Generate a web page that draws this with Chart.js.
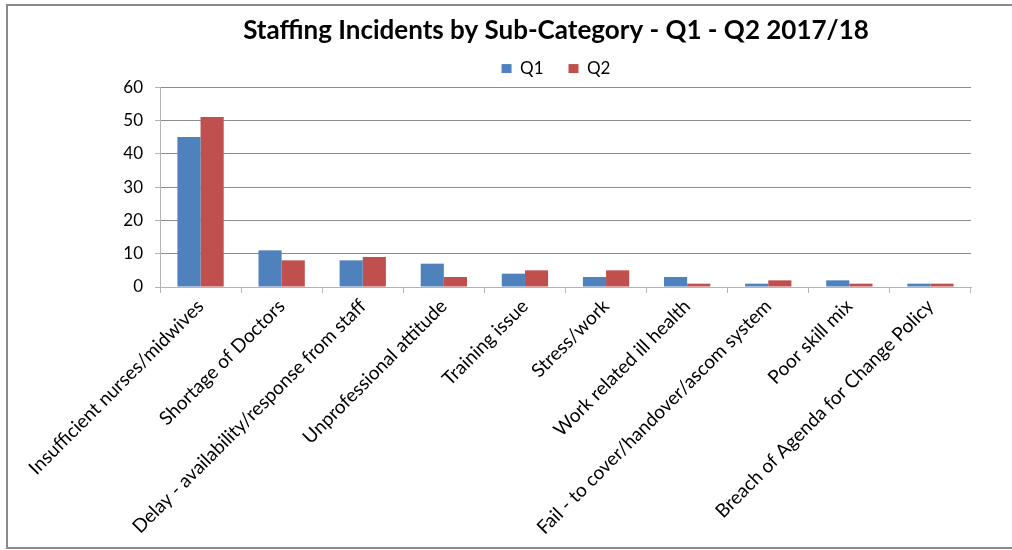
<!DOCTYPE html>
<html>
<head>
<meta charset="utf-8">
<title>Staffing Incidents</title>
<script src="https://cdn.jsdelivr.net/npm/chart.js@4/dist/chart.umd.min.js"></script>
<style>
  html, body { margin: 0; padding: 0; background: #fff; overflow: hidden; }
  #frame {
    position: absolute; left: 6px; top: 4px;
    width: 1100px; height: 541px;
    border: 2px solid #8a8a8a;
  }
  #chart { position: absolute; left: 0; top: 0; }
</style>
</head>
<body>
<div id="frame"></div>
<canvas id="chart" width="1012" height="550"></canvas>
<script>
// Incident counts per sub-category, by quarter
const categories = [
  "Insufficient nurses/midwives",
  "Shortage of Doctors",
  "Delay - availability/response from staff",
  "Unprofessional attitude",
  "Training issue",
  "Stress/work",
  "Work related ill health",
  "Fail - to cover/handover/ascom system",
  "Poor skill mix",
  "Breach of Agenda for Change Policy"
];
const q1Values = [45, 11, 8, 7, 4, 3, 3, 1, 2, 1];
const q2Values = [51, 8, 9, 3, 5, 5, 1, 2, 1, 1];
const yTicks = [0, 10, 20, 30, 40, 50, 60];

const FONT = "Lato, 'Open Sans', sans-serif";

const ctx = document.getElementById("chart").getContext("2d");
new Chart(ctx, {
  type: "bar",
  data: {
    labels: categories,
    datasets: [
      { label: "Q1", data: q1Values, backgroundColor: "#4F81BD" },
      { label: "Q2", data: q2Values, backgroundColor: "#C0504D" }
    ]
  },
  options: {
    responsive: false,
    animation: false,
    layout: { padding: { left: 100, right: 0, top: 1.5, bottom: 0 } },
    datasets: { bar: { categoryPercentage: 0.571, barPercentage: 1.0 } },
    plugins: {
      tooltip: { enabled: false },
      title: {
        display: true,
        text: "Staffing Incidents by Sub-Category - Q1 - Q2 2017/18",
        color: "#000",
        font: { family: FONT, size: 26, weight: "bold", lineHeight: 0.08 },
        padding: { top: 28.5, bottom: 3 }
      },
      legend: {
        display: true,
        labels: {
          color: "#000",
          font: { family: FONT, size: 17 },
          boxWidth: 10,
          boxHeight: 9,
          padding: 25
        }
      }
    },
    scales: {
      x: {
        afterFit: s => { s.height = 263; },
        grid: {
          offset: true,
          drawOnChartArea: false,
          drawTicks: true,
          tickLength: 6,
          color: "#b3b3b3"
        },
        border: { color: "#b3b3b3", width: 1 },
        ticks: {
          color: "#000",
          font: { family: FONT, size: 19 },
          minRotation: 45,
          maxRotation: 45,
          autoSkip: false,
          padding: 2
        }
      },
      y: {
        min: 0,
        max: 60,
        afterFit: s => { s.width = 60; },
        afterBuildTicks: s => { s.ticks = yTicks.map(v => ({ value: v })); },
        grid: {
          color: "#8c8c8c",
          tickColor: "#b3b3b3",
          tickLength: 5
        },
        border: { color: "#b3b3b3", width: 1 },
        ticks: {
          color: "#000",
          font: { family: FONT, size: 17 },
          padding: 12
        }
      },
      // empty right-hand axis: keeps the plot clear of the right edge
      yRight: {
        type: "linear",
        position: "right",
        afterFit: s => { s.width = 41; },
        grid: { display: false },
        border: { display: false },
        ticks: { display: false }
      }
    }
  }
});
</script>
</body>
</html>
